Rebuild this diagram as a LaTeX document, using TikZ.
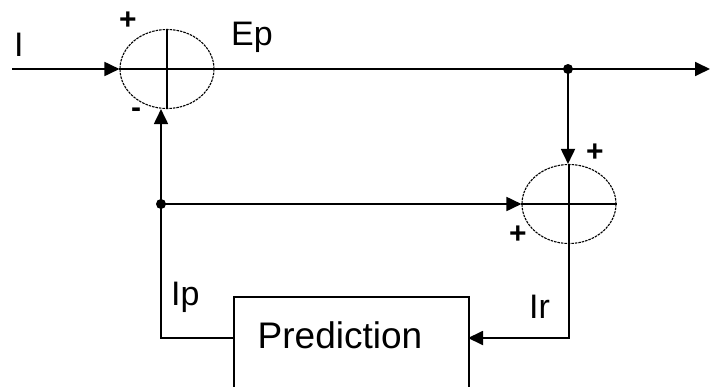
\documentclass[tikz,border=0pt]{standalone}
\usepackage{fontspec}
\setmainfont{Liberation Sans}
\usetikzlibrary{shapes.geometric,arrows.meta}
\tikzset{
  sumj/.style={ellipse, draw, line width=1.1pt, dash pattern=on 2.5pt off 1pt, inner sep=0pt, minimum width=94pt, minimum height=79pt},
  cross/.style={line width=1.6pt},
  wire/.style={line width=1.8pt},
  sig/.style={wire, -{Triangle[length=15pt,width=14pt]}},
  blk/.style={draw, line width=1.6pt, rectangle, inner sep=0pt},
  lbl/.style={font=\fontsize{34}{38}\selectfont, inner sep=0pt},
  sgn/.style={font=\bfseries\fontsize{30}{34}\selectfont, inner sep=0pt},
  dot/.style={circle, fill=black, inner sep=0pt, minimum size=10pt}
}
\begin{document}
\begin{tikzpicture}[x=1pt,y=-1pt]
\useasboundingbox[fill=white] (0,0) rectangle (710,386);
% summing junctions
\node[sumj] (s1) at (167,69) {};
\node[sumj] (s2) at (569,204) {};
\draw[cross] (s1.north) -- (s1.south) (s1.west) -- (s1.east);
\draw[cross] (s2.north) -- (s2.south) (s2.west) -- (s2.east);
% prediction block
\node[blk, anchor=north west, minimum width=235pt, minimum height=140pt] (pred) at (233,296) {};
\node[lbl, font=\fontsize{37}{42}\selectfont] (predtxt) at (340,335) {Prediction};
% coordinates
\coordinate (in) at (12,69);
\coordinate (out) at (710,69);
\coordinate (j2) at (568,69);
\coordinate (j1) at (161,204);
\coordinate (pl) at (233,338);
\coordinate (pr) at (468,338);
% connectors
\draw[sig] (in) -- (s1.west);
\draw[wire] (s1.east) -- (j2);
\draw[sig] (j2) -- (out);
\draw[sig] (j2) -- (j2 |- s2.north);
\draw[sig] (j1) -- (j1 |- s1.south);
\draw[sig] (j1) -- (s2.west);
\draw[wire] (pl) -| (j1);
\draw[sig] (s2.south) |- (pr);
\node[dot] at (j1) {};
\node[dot] at (j2) {};
% labels
\node[lbl, anchor=west] (lI) at (14,45) {I};
\node[lbl, anchor=west] (lEp) at (231,37) {Ep};
\node[sgn] (p1) at (128,21) {+};
\node[sgn] (m1) at (136,113) {-};
\node[sgn] (p2) at (595,153) {+};
\node[sgn] (p3) at (518,235) {+};
\node[lbl, anchor=west] (lIp) at (171,297) {Ip};
\node[lbl, anchor=west] (lIr) at (529,307) {Ir};
\end{tikzpicture}
\end{document}
